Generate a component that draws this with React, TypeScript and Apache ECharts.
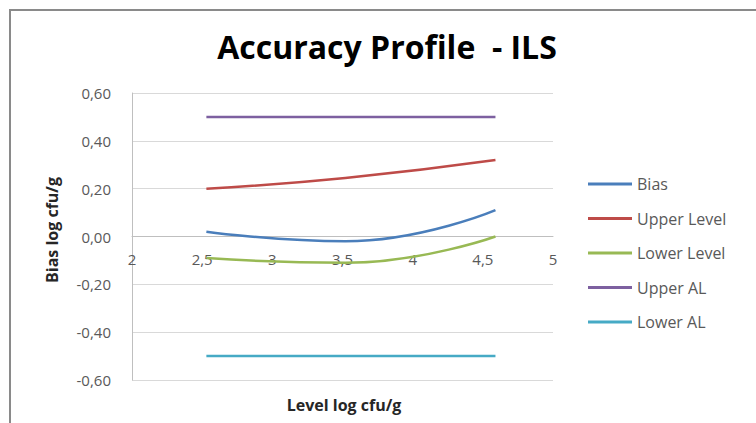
import React, { useEffect, useRef } from "react";
import * as echarts from "echarts";

const titleText = "Accuracy Profile  - ILS";
const xAxisTitle = "Level log cfu/g";
const yAxisTitle = "Bias log cfu/g";

const levels = [2.53, 3.52, 4.59];
const bias = [0.02, -0.02, 0.11];
const upperLevel = [0.2, 0.245, 0.32];
const lowerLevel = [-0.09, -0.11, 0.0];
const upperAL = [0.5, 0.5, 0.5];
const lowerAL = [-0.5, -0.5, -0.5];

const seriesNames = ["Bias", "Upper Level", "Lower Level", "Upper AL", "Lower AL"];
const seriesValues = [bias, upperLevel, lowerLevel, upperAL, lowerAL];
const colors = ["#4a7ebb", "#be4b48", "#98b954", "#7d60a0", "#46aac5"];

const FONT = "'Open Sans', 'Noto Sans', sans-serif";

export default function App() {
  const ref = useRef<HTMLDivElement>(null);

  useEffect(() => {
    if (!ref.current) return;
    const chart = echarts.init(ref.current, null, { renderer: "svg" });
    const series = seriesNames.map((name, i) => ({
      name,
      type: "line",
      smooth: 0.5,
      symbol: "none",
      data: levels.map((x, j) => [x, seriesValues[i][j]]),
      lineStyle: { color: colors[i], width: 2.5 },
      itemStyle: { color: colors[i] },
    }));

    const gridTop = 93;
    const gridBottomY = 380;
    const zeroY = (gridTop + gridBottomY) / 2;

    chart.setOption({
      animation: false,
      backgroundColor: "#ffffff",
      textStyle: { fontFamily: FONT },
      grid: {
        left: 132,
        top: gridTop,
        right: 203,
        bottom: 423 - gridBottomY,
        containLabel: false,
        outerBoundsMode: "none",
      },
      legend: {
        orient: "vertical",
        left: 583,
        top: 171,
        icon: "rect",
        itemWidth: 44,
        itemHeight: 3,
        itemGap: 18.5,
        data: seriesNames,
        textStyle: { fontFamily: FONT, fontSize: 16, color: "#595959" },
      },
      xAxis: {
        type: "value",
        min: 2,
        max: 5,
        interval: 0.5,
        offset: -(gridBottomY - zeroY),
        axisLine: { show: true, onZero: false, lineStyle: { color: "#bfbfbf", width: 1 } },
        axisTick: { show: false },
        splitLine: { show: false },
        axisLabel: {
          margin: 15,
          fontFamily: FONT,
          fontSize: 15,
          color: "#595959",
          formatter: (v: number) => String(v).replace(".", ","),
        },
      },
      yAxis: {
        type: "value",
        min: -0.6,
        max: 0.6,
        interval: 0.2,
        axisLine: { show: true, lineStyle: { color: "#bfbfbf", width: 1 } },
        axisTick: { show: false },
        splitLine: { show: true, lineStyle: { color: "#d9d9d9", width: 1 } },
        axisLabel: {
          margin: 21,
          fontFamily: FONT,
          fontSize: 15,
          color: "#595959",
          formatter: (v: number) => (Math.abs(v) < 1e-9 ? 0 : v).toFixed(2).replace(".", ","),
        },
      },
      graphic: [
        {
          type: "rect",
          silent: true,
          shape: { x: 10, y: 10, width: 800, height: 500 },
          style: { fill: "none", stroke: "#8a8a8a", lineWidth: 2 },
        },
        {
          type: "text",
          x: 387,
          y: 46,
          style: {
            text: titleText,
            fontFamily: FONT,
            fontWeight: "bold",
            fontSize: 32,
            fill: "#000000",
            align: "center",
            verticalAlign: "middle",
          },
        },
        {
          type: "text",
          x: 344,
          y: 405,
          style: {
            text: xAxisTitle,
            fontFamily: FONT,
            fontWeight: "bold",
            fontSize: 16,
            fill: "#262626",
            align: "center",
            verticalAlign: "middle",
          },
        },
        {
          type: "text",
          x: 52,
          y: 230,
          rotation: Math.PI / 2,
          style: {
            text: yAxisTitle,
            fontFamily: FONT,
            fontWeight: "bold",
            fontSize: 16,
            fill: "#262626",
            align: "center",
            verticalAlign: "middle",
          },
        },
      ],
      series,
    });

    return () => chart.dispose();
  }, []);

  return (
    <div
      ref={ref}
      style={{ position: "fixed", left: 0, top: 0, width: 756, height: 423 }}
    />
  );
}
